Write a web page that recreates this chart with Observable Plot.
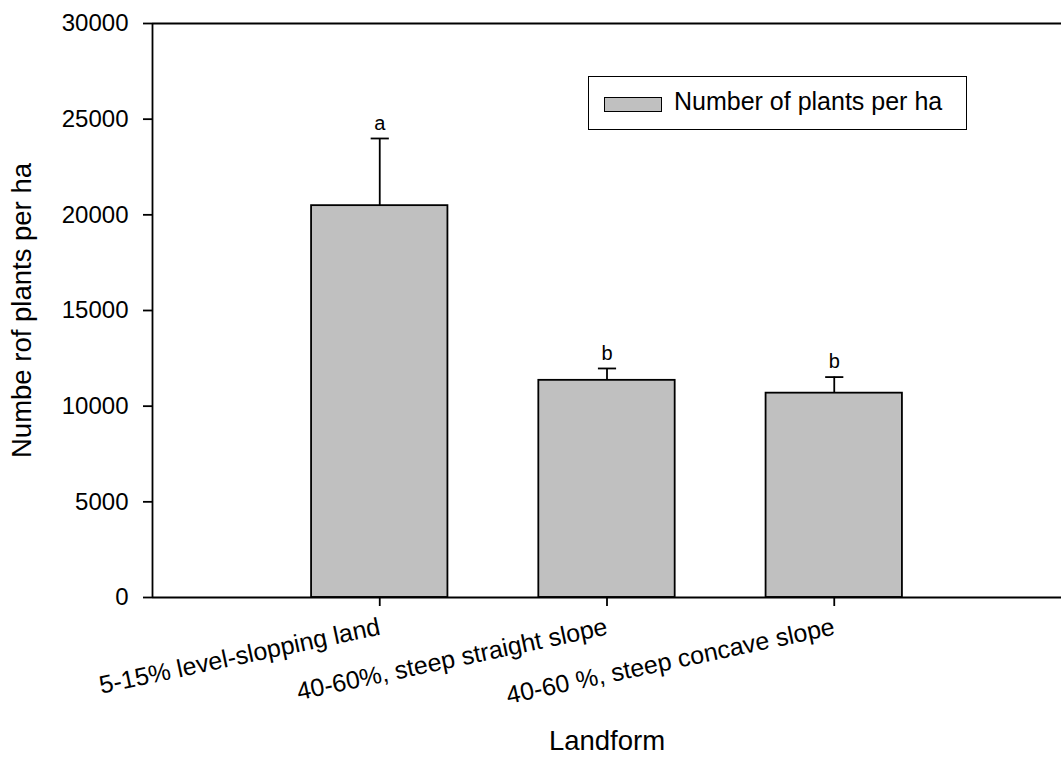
<!DOCTYPE html>
<html>
<head>
<meta charset="utf-8">
<script src="https://cdn.jsdelivr.net/npm/d3@7"></script>
<script src="https://cdn.jsdelivr.net/npm/@observablehq/plot@0.6"></script>
<style>
  body { margin: 0; background: white; }
  #wrap { position: relative; width: 1061px; height: 767px; font-family: "Liberation Sans", Arial, sans-serif; }
  #legend { position: absolute; left: 588px; top: 76px; width: 377px; height: 52px; border: 1.5px solid #000; background: white; }
  #legend .sw { position: absolute; left: 15px; top: 20px; width: 56px; height: 13px; background: #c0c0c0; border: 1.5px solid #000; }
  #legend .lab { position: absolute; left: 85px; top: 10px; font-size: 25px; line-height: 29px; color: #000; white-space: nowrap; }
</style>
</head>
<body>
<div id="wrap"></div>
<script>
const categories = ["5-15% level-slopping land", "40-60%, steep straight slope", "40-60 %, steep concave slope"];
const means = [20480, 11350, 10680];
const errors = [3510, 620, 840];
const letters = ["a", "b", "b"];
const yTicks = [0, 5000, 10000, 15000, 20000, 25000, 30000];
const yLabel = "Numbe rof plants per ha";
const xLabel = "Landform";
const legendLabel = "Number of plants per ha";

const data = categories.map((c, k) => ({
  i: k + 1, cat: c, mean: means[k], hi: means[k] + errors[k], letter: letters[k]
}));

const chart = Plot.plot({
  width: 1061,
  height: 767,
  marginLeft: 152,
  marginRight: 0,
  marginTop: 23,
  marginBottom: 170,
  style: { fontFamily: '"Liberation Sans", Arial, sans-serif', fontSize: "24px", background: "white", color: "#000", overflow: "visible" },
  x: { domain: [0, 4], axis: null },
  y: { domain: [0, 30000], axis: null },
  marks: [
    Plot.rectY(data, { x1: d => d.i - 0.3, x2: d => d.i + 0.3, y: "mean", fill: "#c0c0c0", stroke: "#000", strokeWidth: 1.8 }),
    Plot.ruleX(data, { x: "i", y1: "mean", y2: "hi", stroke: "#000", strokeWidth: 1.8 }),
    Plot.link(data, { x1: d => d.i - 0.04, x2: d => d.i + 0.04, y1: "hi", y2: "hi", stroke: "#000", strokeWidth: 1.8 }),
    Plot.text(data, { x: "i", y: "hi", text: "letter", dy: -15, fontSize: 20 }),
    Plot.ruleY([0, 30000], { stroke: "#000", strokeWidth: 1.8 }),
    Plot.ruleX([0], { stroke: "#000", strokeWidth: 1.8 }),
    Plot.axisY({ ticks: yTicks, tickFormat: d3.format("d"), tickSize: 9, tickPadding: 15, fontSize: 24, label: null, strokeWidth: 1.8 }),
    Plot.axisX({ ticks: [1, 2, 3], tickFormat: i => categories[i - 1], tickSize: 9, tickPadding: 20, tickRotate: -12, fontSize: 25, label: null, strokeWidth: 1.8 }),
    Plot.text([yLabel], { frameAnchor: "left", textAnchor: "middle", dx: -130, rotate: -90, fontSize: 27.5 }),
    Plot.text([xLabel], { frameAnchor: "bottom", dy: 152, fontSize: 27.5 })
  ]
});

const wrap = document.getElementById("wrap");
wrap.appendChild(chart);
const legend = document.createElement("div");
legend.id = "legend";
legend.innerHTML = '<div class="sw"></div><div class="lab"></div>';
legend.querySelector(".lab").textContent = legendLabel;
wrap.appendChild(legend);
</script>
</body>
</html>
